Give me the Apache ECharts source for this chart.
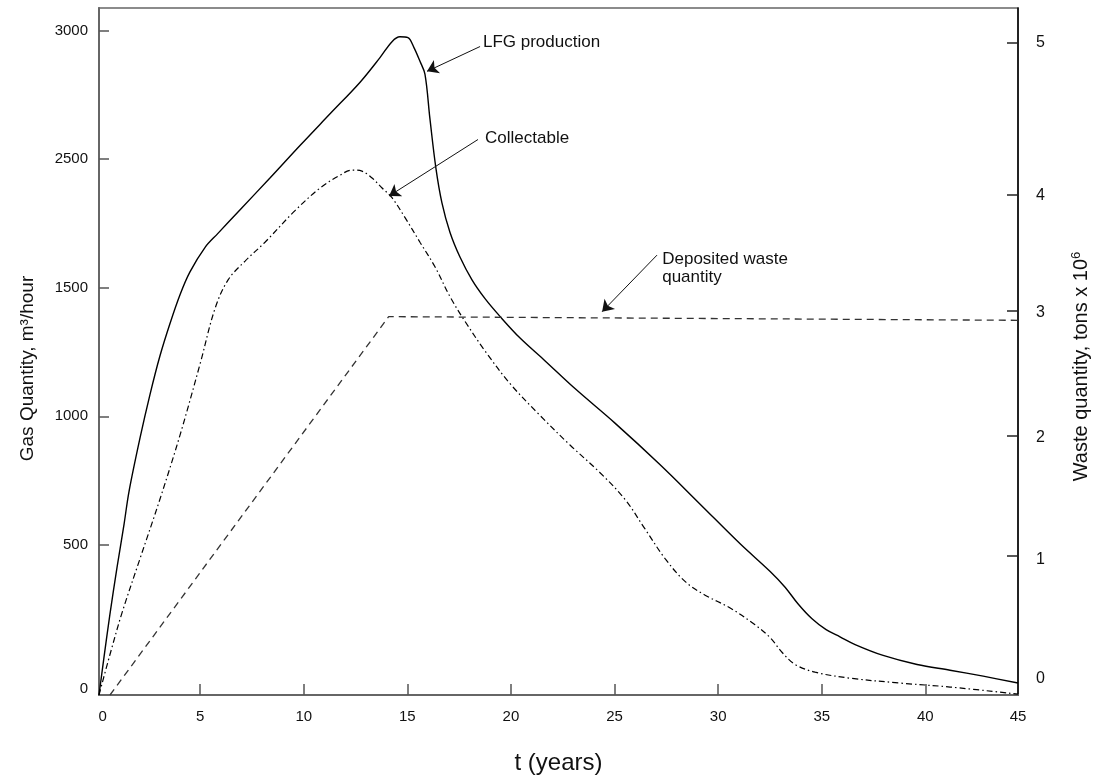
<!DOCTYPE html>
<html><head><meta charset="utf-8">
<script src="https://cdn.jsdelivr.net/npm/echarts@6/dist/echarts.min.js"></script>
<style>html,body{margin:0;padding:0;background:#fff}#c{width:1101px;height:780px}</style>
</head><body><div id="c"></div>
<script>
// ---- data (t in years, gas in m3/hour, waste in tons x 10^6) ----
const lfgT = [0.12,0.36,0.65,0.99,1.33,1.57,2.10,2.58,3.06,3.55,4.03,4.51,5.24,5.86,6.93,8.37,9.82,11.27,12.72,13.68,14.26,14.64,15.03,15.32,15.61,15.85,16.09,16.38,16.67,17.06,17.54,18.12,18.75,19.47,20.44,21.65,23.09,25.02,27.20,29.13,31.06,32.51,33.23,33.86,34.53,35.21,35.88,36.61,37.96,39.60,41.19,42.79,44.47];
const lfgV = [0,170,366,576,772,920,1161,1357,1531,1679,1808,1911,2022,2085,2192,2335,2482,2625,2768,2879,2951,2973,2969,2924,2862,2804,2603,2379,2223,2089,1978,1875,1790,1710,1612,1509,1384,1228,1040,862,683,558,487,411,344,295,263,228,179,138,112,85,54];

const colT = [0.12,0.65,1.23,2.10,3.06,4.03,5.00,5.72,6.35,7.17,8.13,9.58,10.79,11.75,12.33,12.81,13.30,13.78,14.26,14.89,15.61,16.34,17.06,17.78,18.75,19.96,21.40,22.85,24.30,25.50,26.47,27.44,28.40,29.37,30.58,31.78,32.51,33.09,33.71,34.68,36.37,38.78,41.19,44.47];
const colV = [0,183,371,616,884,1174,1496,1746,1875,1960,2045,2188,2290,2348,2371,2366,2335,2290,2246,2156,2045,1933,1799,1688,1554,1406,1263,1129,1004,884,750,616,513,451,393,317,259,192,138,103,76,54,36,4];

const wasteT = [0.65,14.10,44.47];
const wasteV = [-0.137,2.95,2.92];

// ---- axes: tick / label values and texts ----
const X_MIN = 0.12, X_MAX = 44.47;
const xTickVals  = [5,10,15,20,25,30,35,40];
const xLabelVals = [0.30,5,10,15,20,25,30,35,40,44.47];
const xLabels    = ['0','5','10','15','20','25','30','35','40','45'];

const GAS_MIN = 0, GAS_MAX = 3103;
const gasTickVals  = [3000,2420,1839,1259,679];
const gasLabelVals = [3000,2420,1839,1259,679,27];
const gasLabels    = ['3000','2500','1500','1000','500','0'];

const W_MIN = -0.137, W_MAX = 5.468;
const wTickVals  = [5.185,3.944,3.0,1.976,1.0];
const wLabelVals = [5.185,3.935,2.984,1.960,0.968,0];
const wLabels    = ['5','4','3','2','1','0'];

// annotations (data coordinates)
const annLfg   = {text:'LFG production', at:[18.65,2946], from:[18.51,2929], to:[15.95,2817]};
const annCol   = {text:'Collectable', at:[18.75,2513], from:[18.41,2509], to:[14.12,2254]};
const annWaste = {text:'Deposited waste\nquantity', at:[27.3,3.347], from:[27.05,3.452], to:[24.4,2.99]};

function hasFont(name){
  const c=document.createElement('canvas').getContext('2d');
  const s='3000 45 abcdefghijklm';
  c.font='40px monospace'; const a=c.measureText(s).width;
  c.font='40px "'+name+'", monospace'; const b=c.measureText(s).width;
  return Math.abs(a-b)>0.5;
}
const narrow = hasFont('Liberation Sans Narrow');
const numStyle = narrow ? {fontFamily:'"Liberation Sans Narrow"', fontSize:18} : {fontFamily:'"Liberation Sans", Arial', fontSize:15};

function lookup(vals, labels){
  return function(v){
    let bi=0, bd=Infinity;
    vals.forEach((x,i)=>{const d=Math.abs(x-v); if(d<bd){bd=d;bi=i;}});
    return labels[bi];
  };
}
const zip = (a,b)=>a.map((x,i)=>[x,b[i]]);
const FONT = '"Liberation Sans", Arial, sans-serif';

function annotation(a){
  return {
    markLine:{silent:true, animation:false, symbol:['none','arrow'], symbolSize:11,
      label:{show:false}, lineStyle:{color:'#111', width:1, type:'solid'},
      data:[[{coord:a.from},{coord:a.to}]]},
    markPoint:{silent:true, animation:false, symbol:'circle', symbolSize:0,
      label:{show:true, position:'right', distance:0, formatter:a.text, fontSize:17, lineHeight:18,
        color:'#111', fontFamily:FONT},
      data:[{coord:a.at}]}
  };
}

const chart = echarts.init(document.getElementById('c'), null, {renderer:'canvas'});
chart.setOption({
  animation:false,
  backgroundColor:'#fff',
  grid:{left:99, right:83, top:8, bottom:77, show:true, borderColor:'#666', borderWidth:1.5},
  xAxis:{type:'value', min:X_MIN, max:X_MAX,
    axisLine:{show:true, lineStyle:{color:'#666', width:2}},
    axisTick:{show:true, inside:true, length:11, customValues:xTickVals, lineStyle:{color:'#555', width:1.5}},
    axisLabel:{customValues:xLabelVals, formatter:lookup(xLabelVals,xLabels), margin:14, color:'#111', fontSize:15, fontFamily:FONT},
    splitLine:{show:false},
    name:'t (years)', nameLocation:'middle', nameGap:56,
    nameTextStyle:{fontSize:24, color:'#111', fontFamily:FONT}},
  yAxis:[
    {type:'value', position:'left', min:GAS_MIN, max:GAS_MAX,
      axisLine:{show:true, lineStyle:{color:'#666', width:2}},
      axisTick:{show:true, inside:true, length:10, customValues:gasTickVals, lineStyle:{color:'#555', width:1.5}},
      axisLabel:Object.assign({customValues:gasLabelVals, formatter:lookup(gasLabelVals,gasLabels), margin:11, color:'#111'}, numStyle),
      splitLine:{show:false},
      name:'Gas Quantity, m³/hour', nameLocation:'middle', nameRotate:90, nameGap:62,
      nameTextStyle:{fontSize:19, color:'#111', fontFamily:FONT, padding:[0,34,0,0]}},
    {type:'value', position:'right', min:W_MIN, max:W_MAX,
      axisLine:{show:true, lineStyle:{color:'#000', width:1.5}},
      axisTick:{show:true, inside:true, length:11, customValues:wTickVals, lineStyle:{color:'#222', width:1.5}},
      axisLabel:{customValues:wLabelVals, formatter:lookup(wLabelVals,wLabels), margin:18, color:'#111', fontSize:16, fontFamily:FONT},
      splitLine:{show:false},
      name:'Waste quantity, tons x 10{sup|6}', nameLocation:'middle', nameRotate:90, nameGap:52,
      nameTextStyle:{fontSize:20, color:'#111', fontFamily:FONT, padding:[0,30,0,0],
        rich:{sup:{fontSize:13, padding:[0,0,10,0], fontFamily:FONT, color:'#111'}}}}
  ],
  series:[
    Object.assign({name:'LFG production', type:'line', yAxisIndex:0, data:zip(lfgT,lfgV), symbol:'none',
      smooth:0.35, lineStyle:{color:'#000', width:1.4}}, annotation(annLfg)),
    Object.assign({name:'Collectable', type:'line', yAxisIndex:0, data:zip(colT,colV), symbol:'none',
      smooth:0.35, lineStyle:{color:'#000', width:1.2, type:[6,3,1.5,3]}}, annotation(annCol)),
    Object.assign({name:'Deposited waste quantity', type:'line', yAxisIndex:1, data:zip(wasteT,wasteV), symbol:'none',
      lineStyle:{color:'#333', width:1.3, type:[7,5]}}, annotation(annWaste))
  ]
});
</script>
</body></html>
